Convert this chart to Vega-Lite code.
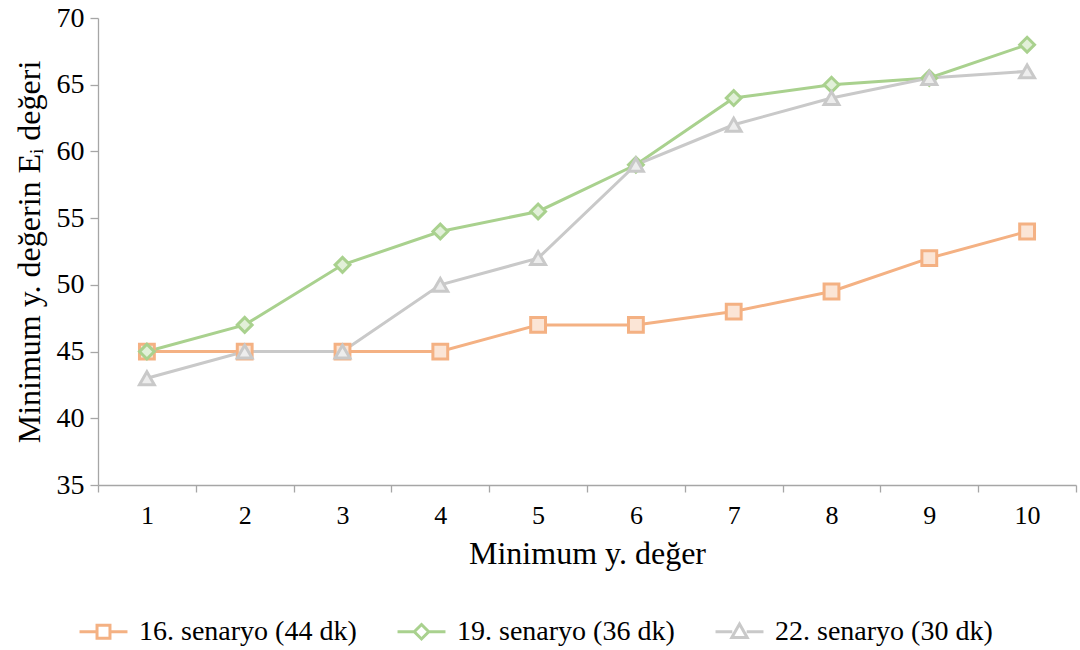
{
  "$schema": "https://vega.github.io/schema/vega-lite/v6.json",
  "width": 978,
  "height": 467,
  "autosize": "none",
  "padding": {"left": 98, "top": 18, "right": 4, "bottom": 165},
  "background": "white",
  "config": {
    "font": "Liberation Serif",
    "view": {"stroke": null}
  },
  "data": {
    "values": [
      {"x": 1, "s": "16. senaryo (44 dk)", "v": 45},
      {"x": 2, "s": "16. senaryo (44 dk)", "v": 45},
      {"x": 3, "s": "16. senaryo (44 dk)", "v": 45},
      {"x": 4, "s": "16. senaryo (44 dk)", "v": 45},
      {"x": 5, "s": "16. senaryo (44 dk)", "v": 47},
      {"x": 6, "s": "16. senaryo (44 dk)", "v": 47},
      {"x": 7, "s": "16. senaryo (44 dk)", "v": 48},
      {"x": 8, "s": "16. senaryo (44 dk)", "v": 49.5},
      {"x": 9, "s": "16. senaryo (44 dk)", "v": 52},
      {"x": 10, "s": "16. senaryo (44 dk)", "v": 54},
      {"x": 1, "s": "19. senaryo (36 dk)", "v": 45},
      {"x": 2, "s": "19. senaryo (36 dk)", "v": 47},
      {"x": 3, "s": "19. senaryo (36 dk)", "v": 51.5},
      {"x": 4, "s": "19. senaryo (36 dk)", "v": 54},
      {"x": 5, "s": "19. senaryo (36 dk)", "v": 55.5},
      {"x": 6, "s": "19. senaryo (36 dk)", "v": 59},
      {"x": 7, "s": "19. senaryo (36 dk)", "v": 64},
      {"x": 8, "s": "19. senaryo (36 dk)", "v": 65},
      {"x": 9, "s": "19. senaryo (36 dk)", "v": 65.5},
      {"x": 10, "s": "19. senaryo (36 dk)", "v": 68},
      {"x": 1, "s": "22. senaryo (30 dk)", "v": 43},
      {"x": 2, "s": "22. senaryo (30 dk)", "v": 45},
      {"x": 3, "s": "22. senaryo (30 dk)", "v": 45},
      {"x": 4, "s": "22. senaryo (30 dk)", "v": 50},
      {"x": 5, "s": "22. senaryo (30 dk)", "v": 52},
      {"x": 6, "s": "22. senaryo (30 dk)", "v": 59},
      {"x": 7, "s": "22. senaryo (30 dk)", "v": 62},
      {"x": 8, "s": "22. senaryo (30 dk)", "v": 64},
      {"x": 9, "s": "22. senaryo (30 dk)", "v": 65.5},
      {"x": 10, "s": "22. senaryo (30 dk)", "v": 66}
    ]
  },
  "encoding": {
    "x": {
      "field": "x", "type": "ordinal",
      "scale": {"type": "band", "paddingInner": 0, "paddingOuter": 0},
      "axis": {
        "title": "Minimum y. değer",
        "labelAngle": 0, "labelFontSize": 26, "labelColor": "black", "labelPadding": 10,
        "titleFontSize": 32, "titleFontWeight": "normal", "titleColor": "black", "titlePadding": 10,
        "domainColor": "#a6a6a6", "domainWidth": 1.3, "tickColor": "#a6a6a6", "tickSize": 7, "tickWidth": 1.3,
        "tickBand": "extent", "grid": false
      }
    },
    "y": {
      "field": "v", "type": "quantitative",
      "scale": {"domain": [35, 70], "nice": false, "zero": false},
      "axis": {
        "title": "Minimum y. değerin Eᵢ değeri",
        "values": [35, 40, 45, 50, 55, 60, 65, 70],
        "labelFontSize": 28, "labelColor": "black", "labelPadding": 6,
        "titleFontSize": 32, "titleFontWeight": "normal", "titleColor": "black", "titlePadding": 10,
        "domainColor": "#a6a6a6", "domainWidth": 1.3, "tickColor": "#a6a6a6", "tickSize": 8, "tickWidth": 1.3,
        "grid": false
      }
    },
    "color": {
      "field": "s", "type": "nominal",
      "scale": {"domain": ["16. senaryo (44 dk)", "19. senaryo (36 dk)", "22. senaryo (30 dk)"], "range": ["#f4b183", "#a9d18e", "#c9c9c9"]},
      "legend": null
    }
  },
  "layer": [
    {"mark": {"type": "line", "strokeWidth": 3}},
    {
      "mark": {"type": "point", "filled": false, "strokeWidth": 3, "size": 220, "opacity": 1},
      "encoding": {
        "shape": {
          "field": "s", "type": "nominal",
          "scale": {"domain": ["16. senaryo (44 dk)", "19. senaryo (36 dk)", "22. senaryo (30 dk)"], "range": ["square", "diamond", "triangle-up"]},
          "legend": null
        },
        "fill": {
          "field": "s", "type": "nominal",
          "scale": {"domain": ["16. senaryo (44 dk)", "19. senaryo (36 dk)", "22. senaryo (30 dk)"], "range": ["#fbe5d6", "#e2f0d9", "#ededed"]},
          "legend": null
        }
      }
    },
    {
      "transform": [{"filter": "datum.x > 100"}],
      "mark": {"type": "point", "filled": false, "strokeWidth": 3, "opacity": 1},
      "encoding": {
        "color": {
          "field": "s", "type": "nominal",
          "legend": {
            "title": null, "orient": "none", "direction": "horizontal",
            "legendX": -20, "legendY": 588,
            "symbolSize": 2300, "symbolStrokeWidth": 3, "symbolFillColor": "#f6f6f6",
            "labelFontSize": 28, "labelColor": "black", "labelOffset": 10, "columnPadding": 34,
            "labelLimit": 500, "symbolOpacity": 1
          }
        },
        "shape": {
          "field": "s", "type": "nominal",
          "scale": {"domain": ["16. senaryo (44 dk)", "19. senaryo (36 dk)", "22. senaryo (30 dk)"],
            "range": [
              "M-1,0H-0.27M0.27,0H1M-0.27,-0.27H0.27V0.27H-0.27Z",
              "M-1,0H-0.3M0.3,0H1M0,-0.3L0.3,0L0,0.3L-0.3,0Z",
              "M-1,0H-0.3M0.3,0H1M0,-0.32L0.32,0.24L-0.32,0.24Z"
            ]},
          "legend": {
            "title": null, "orient": "none", "direction": "horizontal",
            "legendX": -20, "legendY": 588,
            "symbolSize": 2300, "symbolStrokeWidth": 3, "symbolFillColor": "#f6f6f6",
            "labelFontSize": 28, "labelColor": "black", "labelOffset": 10, "columnPadding": 34,
            "labelLimit": 500, "symbolOpacity": 1
          }
        }
      }
    }
  ],
  "resolve": {"scale": {"shape": "independent"}, "legend": {"shape": "independent", "color": "independent"}}
}
